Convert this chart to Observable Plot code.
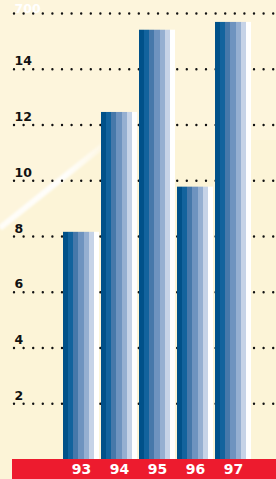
<!DOCTYPE html>
<html>
<head>
<meta charset="utf-8">
<script src="https://cdn.jsdelivr.net/npm/d3@7"></script>
<script src="https://cdn.jsdelivr.net/npm/@observablehq/plot@0.6"></script>
<style>
  html, body { margin: 0; padding: 0; background: #fdf5dc; }
  svg { display: block; }
</style>
</head>
<body>
<div id="chart"></div>
<script>
const years = ["93", "94", "95", "96", "97"];
const values = [8.15, 12.45, 15.4, 9.77, 15.68];
const gridTicks = [2, 4, 6, 8, 10, 12, 14, 16];
const tickValues = [2, 4, 6, 8, 10, 12, 14];
const tickLabels = ["2", "4", "6", "8", "10", "12", "14"];
const topValue = [16];
const topLabel = ["700"];
const stripeColors = ["#005189", "#12639d", "#4678aa", "#6e93bf", "#95afd1", "#c6d3e7", "#ffffff"];

const font = "'DejaVu Sans', 'Liberation Sans', Arial, sans-serif";

const svg = Plot.plot({
  width: 276,
  height: 479,
  marginTop: 13,
  marginBottom: 20,
  marginLeft: 0,
  marginRight: 0,
  style: { background: "transparent", fontFamily: font, overflow: "visible" },
  x: { type: "band", domain: years, range: [62, 253], paddingInner: 0.05, paddingOuter: 0.025, axis: null },
  y: { domain: [0, 16], axis: null },
  marks: [
    Plot.ruleY(gridTicks, {
      y: d => d,
      stroke: "#111",
      strokeWidth: 2.4,
      strokeDasharray: "0 9.6",
      strokeLinecap: "round",
      insetLeft: 14
    }),
    Plot.barY(years, {
      x: d => d,
      y: (d, i) => values[i],
      fill: "url(#stripes)"
    }),
    Plot.text(tickValues, {
      y: d => d,
      text: (d, i) => tickLabels[i],
      fill: "#111",
      frameAnchor: "left",
      dx: 14,
      dy: -4,
      lineAnchor: "bottom",
      textAnchor: "start",
      fontWeight: "bold",
      fontSize: 12.5
    }),
    Plot.text(topValue, {
      y: d => d,
      text: (d, i) => topLabel[i],
      fill: "#ffffff",
      frameAnchor: "left",
      dx: 14,
      dy: -5,
      lineAnchor: "middle",
      textAnchor: "start",
      fontWeight: "bold",
      fontSize: 12.5
    }),
    Plot.text(years, {
      x: d => d,
      text: d => d,
      frameAnchor: "bottom",
      dy: 10.5,
      lineAnchor: "middle",
      fill: "white",
      fontWeight: "bold",
      fontSize: 14
    })
  ]
});

// Decorative defs: stripe gradient, streak
const s = d3.select(svg);
const defs = s.insert("defs", ":first-child");
const g = defs.append("linearGradient").attr("id", "stripes").attr("x1", 0).attr("x2", 1).attr("y1", 0).attr("y2", 0);
stripeColors.forEach((c, i) => {
  g.append("stop").attr("offset", i / stripeColors.length).attr("stop-color", c);
  g.append("stop").attr("offset", (i + 1) / stripeColors.length).attr("stop-color", c);
});
const sg = defs.append("linearGradient").attr("id", "streak").attr("gradientUnits", "userSpaceOnUse")
  .attr("x1", 0).attr("y1", 228).attr("x2", 110).attr("y2", 140);
sg.append("stop").attr("offset", 0).attr("stop-color", "#fff").attr("stop-opacity", 0.8);
sg.append("stop").attr("offset", 0.6).attr("stop-color", "#fff").attr("stop-opacity", 0.9);
sg.append("stop").attr("offset", 1).attr("stop-color", "#fff").attr("stop-opacity", 0.2);
defs.append("filter").attr("id", "blur").append("feGaussianBlur").attr("stdDeviation", 1.2);

// background decoration inserted after defs (below marks)
const deco = s.insert("g", "defs + *");
deco.append("polygon").attr("points", "0,230 110,140 276,140 276,479 0,479").attr("fill", "#fbf3d4").attr("opacity", 0.6);
deco.append("line").attr("x1", 0).attr("y1", 228).attr("x2", 110).attr("y2", 140)
  .attr("stroke", "url(#streak)").attr("stroke-width", 6).attr("filter", "url(#blur)");
deco.append("rect").attr("x", 12).attr("y", 459).attr("width", 264).attr("height", 20).attr("fill", "#ed1b2e");

document.getElementById("chart").appendChild(svg);
</script>
</body>
</html>
